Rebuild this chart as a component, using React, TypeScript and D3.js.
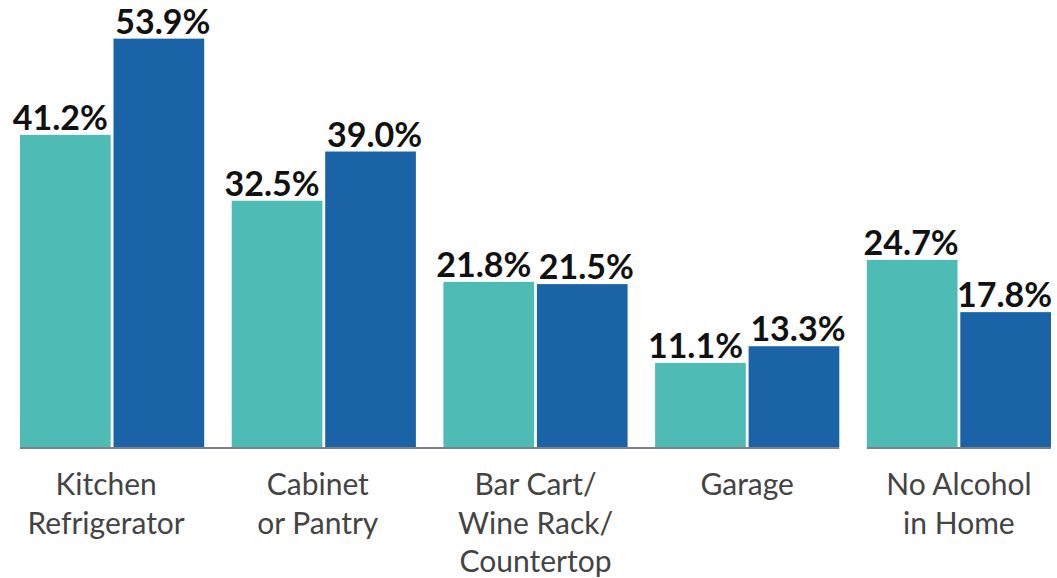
import React, { useEffect, useRef } from "react";
import * as d3 from "d3";

// categories: each label split into lines
const categories = ["Kitchen Refrigerator", "Cabinet or Pantry", "Bar Cart", "Garage", "No Alcohol"];
const categoryLines = [
  ["Kitchen", "Refrigerator"],
  ["Cabinet", "or Pantry"],
  ["Bar Cart/", "Wine Rack/", "Countertop"],
  ["Garage"],
  ["No Alcohol", "in Home"],
];
const seriesNames = ["A", "B"];
const seriesA = [41.2, 32.5, 21.8, 11.1, 24.7];
const seriesB = [53.9, 39.0, 21.5, 13.3, 17.8];
const colors = ["#4ebbb4", "#1a63a7"];

const App: React.FC = () => {
  const ref = useRef<SVGSVGElement>(null);

  useEffect(() => {
    const width = 1057;
    const height = 578;
    const baseY = 447;

    const svg = d3.select(ref.current).attr("width", width).attr("height", height);
    svg.selectAll("*").remove();

    const x0 = d3.scaleBand<string>()
      .domain(categories)
      .range([20, 1051])
      .paddingInner(0.13)
      .paddingOuter(0);

    const x1 = d3.scaleBand<string>()
      .domain(seriesNames)
      .range([0, x0.bandwidth()])
      .paddingInner(0.03);

    const y = d3.scaleLinear().domain([0, 59]).range([baseY, 0]);

    const rows = categories.map((c, i) => ({ cat: c, i, vals: [seriesA[i], seriesB[i]] }));

    const groups = svg.selectAll("g.grp")
      .data(rows)
      .enter()
      .append("g")
      .attr("class", "grp")
      .attr("transform", (d) => `translate(${x0(d.cat)},0)`);

    groups.selectAll("rect")
      .data((d) => d.vals.map((v, j) => ({ v, s: seriesNames[j], j })))
      .enter()
      .append("rect")
      .attr("x", (d) => x1(d.s)!)
      .attr("y", (d) => y(d.v))
      .attr("width", x1.bandwidth())
      .attr("height", (d) => baseY - y(d.v))
      .attr("fill", (d) => colors[d.j]);

    // value labels, nudged apart a little like the original
    groups.selectAll("text.val")
      .data((d) => d.vals.map((v, j) => ({ v, s: seriesNames[j], j, last: d.i === categories.length - 1 })))
      .enter()
      .append("text")
      .attr("class", "val")
      .attr("x", (d) => x1(d.s)! + x1.bandwidth() / 2 + (d.last ? -1 : d.j === 0 ? -5 : 4))
      .attr("y", (d) => y(d.v) - 5)
      .attr("text-anchor", "middle")
      .attr("font-family", "Lato, 'Open Sans', sans-serif")
      .attr("font-weight", 700)
      .attr("font-size", 34)
      .attr("fill", "#111")
      .text((d) => `${d.v.toFixed(1)}%`);

    // axis baseline, broken before the last group
    const axisColor = "#7b808b";
    svg.append("line")
      .attr("x1", x0(categories[0])!)
      .attr("x2", x0(categories[3])! + x0.bandwidth())
      .attr("y1", baseY + 1)
      .attr("y2", baseY + 1)
      .attr("stroke", axisColor)
      .attr("stroke-width", 2);
    svg.append("line")
      .attr("x1", x0(categories[4])!)
      .attr("x2", x0(categories[4])! + x0.bandwidth())
      .attr("y1", baseY + 1)
      .attr("y2", baseY + 1)
      .attr("stroke", axisColor)
      .attr("stroke-width", 2);

    // category labels
    categories.forEach((c, i) => {
      const cx = x0(c)! + x0.bandwidth() / 2 - (i < 2 ? 6 : 0);
      const t = svg.append("text")
        .attr("x", cx)
        .attr("y", 495)
        .attr("text-anchor", "middle")
        .attr("font-family", "Lato, 'Open Sans', sans-serif")
        .attr("font-size", 30)
        .attr("fill", "#444");
      categoryLines[i].forEach((ln, k) => {
        t.append("tspan")
          .attr("x", cx)
          .attr("y", 495 + k * 38.5)
          .text(ln);
      });
    });

    return () => {
      svg.selectAll("*").remove();
    };
  }, []);

  return (
    <svg
      ref={ref}
      style={{ position: "absolute", left: 0, top: 0, display: "block", background: "#fff" }}
    ></svg>
  );
};

export default App;
